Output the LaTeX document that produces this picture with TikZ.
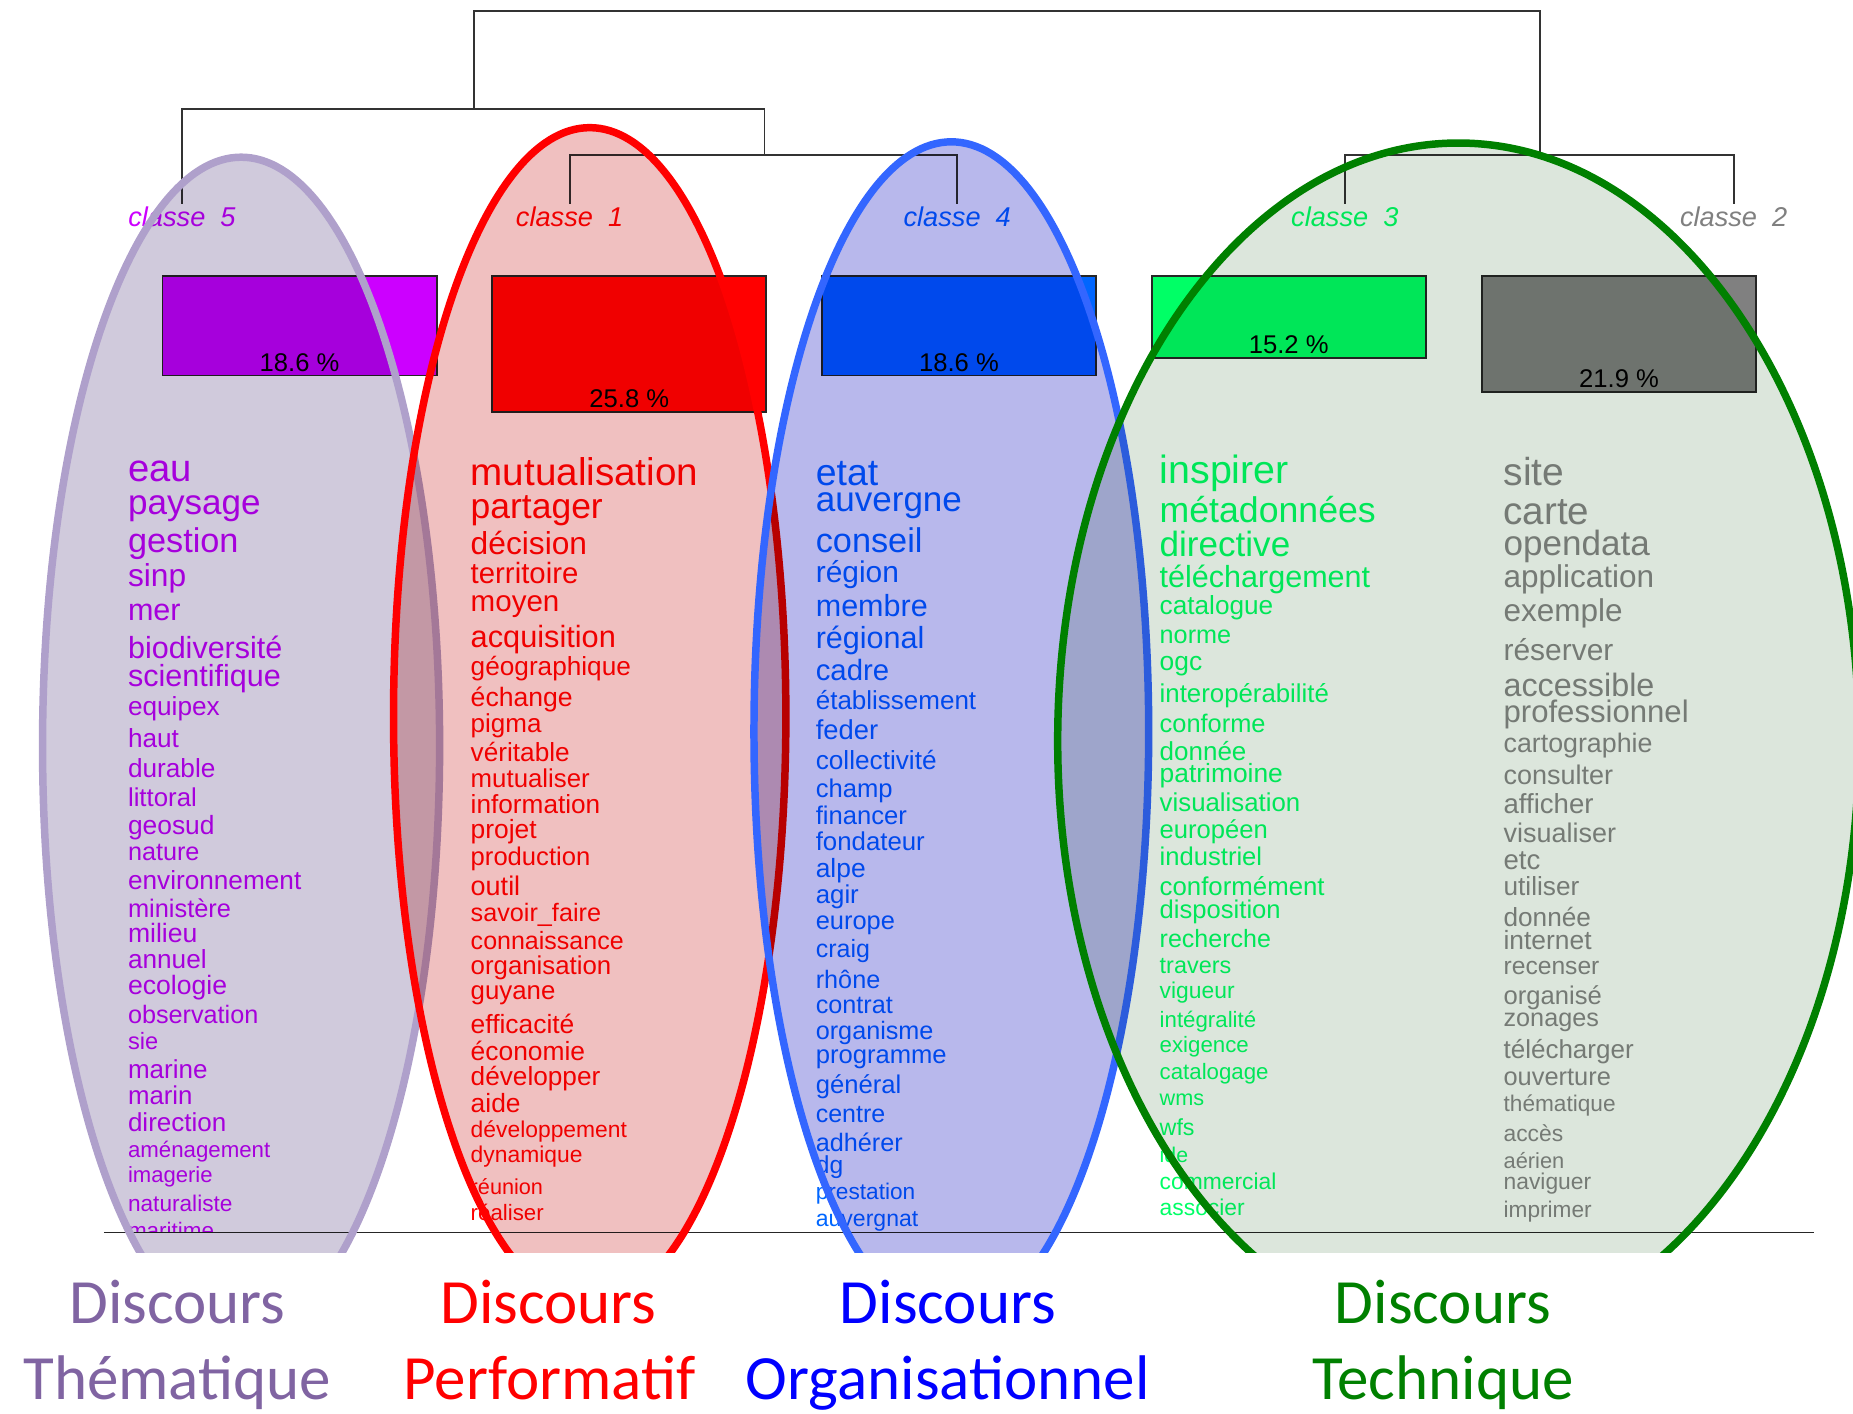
\documentclass[tikz,border=0pt]{standalone}
\usepackage{fontspec}
\setmainfont{Liberation Sans}
\newfontfamily\carlito{Carlito}
\usepackage{tikz}

\definecolor{violet5}{HTML}{CC00FF}
\definecolor{red1}{HTML}{FF0000}
\definecolor{blue4}{HTML}{0066FF}
\definecolor{green3}{HTML}{00FF66}
\definecolor{gray2}{HTML}{808080}
\definecolor{grayword}{HTML}{888888}
\definecolor{lavfill}{HTML}{D0CADC}
\definecolor{lavline}{HTML}{AFA0CB}
\definecolor{redfill}{HTML}{F0C0C0}
\definecolor{bluefill}{HTML}{B8B8EC}
\definecolor{blueline}{HTML}{3366FF}
\definecolor{greenfill}{HTML}{DCE6DC}
\definecolor{greenline}{HTML}{008000}
\definecolor{thema}{HTML}{8064A2}

\begin{document}
\begin{tikzpicture}[x=0.6pt, y=-0.6pt,
  tree/.style={draw=black!80, line width=0.9pt},
  leaf/.style={anchor=base, inner sep=1.5pt, font=\fontsize{13.8}{13.8}\selectfont\itshape},
  bar/.style={draw=black!85, line width=0.9pt, anchor=north, minimum width=139.2pt, inner sep=0pt},
  pct/.style={anchor=base, inner sep=0pt, font=\fontsize{13}{13}\selectfont},
  word/.style={anchor=mid west, inner sep=0pt, yshift={(2-0.3*#1)*1pt}, font=\fontsize{#1}{#1}\selectfont},
  oval/.style={line width=3.8pt},
  disc/.style={anchor=base, inner sep=0pt, font=\carlito\fontsize{32}{32}\selectfont}]
\useasboundingbox (0,0) rectangle (1568,1196);

% dendrogram
\node[leaf, text=violet5] (c5) at (154,192) {classe~~5};
\node[leaf, text=red1] (c1) at (482,192) {classe~~1};
\node[leaf, text=blue4] (c4) at (810,192) {classe~~4};
\node[leaf, text=green3] (c3) at (1138,192) {classe~~3};
\node[leaf, text=gray2] (c2) at (1467,192) {classe~~2};
\coordinate (j14) at (647,131);
\coordinate (j32) at (1303,131);
\coordinate (j514) at (401,92);
\coordinate (root) at (852,9);
\draw[tree] (c1.north) |- (j14) -| (c4.north);
\draw[tree] (c5.north) |- (j514) -| (j14);
\draw[tree] (c3.north) |- (j32) -| (c2.north);
\draw[tree] (j514) |- (root) -| (j32);

% bars
\node[bar, fill=violet5, minimum height=50.4pt] (b5) at (253.5,233) {};
\node[bar, fill=red1, minimum height=69pt] (b1) at (532.5,233) {};
\node[bar, fill=blue4, minimum height=50.4pt] (b4) at (811.5,233) {};
\node[bar, fill=green3, minimum height=41.4pt] (b3) at (1090.5,233) {};
\node[bar, fill=gray2, minimum height=58.8pt] (b2) at (1370,233) {};
\node[pct] (p5) at ([yshift=2.7pt]b5.south) {18.6 \%};
\node[pct] (p1) at ([yshift=2.7pt]b1.south) {25.8 \%};
\node[pct] (p4) at ([yshift=2.7pt]b4.south) {18.6 \%};
\node[pct] (p3) at ([yshift=2.7pt]b3.south) {15.2 \%};
\node[pct] (p2) at ([yshift=2.7pt]b2.south) {21.9 \%};

% words of each class
\begin{scope}
\clip (0,0) rectangle (1568,1043);
\foreach \y/\s/\t [count=\i] in {397/19.4/eau, 425/17.8/paysage, 458/17.4/gestion, 487/16.1/sinp, 516/15.5/mer, 548/15.5/biodiversité, 572/15.5/scientifique, 598/13.3/equipex, 625/13.3/haut, 650/13.3/durable, 675/13.1/littoral, 698/13.4/geosud, 721/12.8/nature, 745/13.3/environnement, 769/12.9/ministère, 790/13.5/milieu, 812/13.3/annuel, 834/13.5/ecologie, 859/12.8/observation, 881/12/sie, 905/13.2/marine, 927/13.1/marin, 950/13.2/direction, 973/11.3/aménagement, 994/11.2/imagerie, 1018/11.5/naturaliste, 1041/11.4/maritime}
  \node[word=\s, text=violet5] (v\i) at (108,\y) {\t};
\foreach \y/\s/\t [count=\i] in {400/19.6/mutualisation, 429/18/partager, 460/16.1/décision, 485/14.9/territoire, 509/15/moyen, 539/15.6/acquisition, 564/13.3/géographique, 590/13.5/échange, 612/13.2/pigma, 637/13.3/véritable, 659/13.1/mutualiser, 681/13.3/information, 702/13.4/projet, 725/13/production, 750/13.7/outil, 772/12.8/savoir\_faire, 796/12.7/connaissance, 817/13.1/organisation, 838/13.1/guyane, 867/13.4/efficacité, 890/13.4/économie, 911/13.3/développer, 934/13.4/aide, 956/11.6/développement, 977/11.6/dynamique, 1004/11/réunion, 1026/11.3/réaliser}
  \node[word=\s, text=red1] (r\i) at (398,\y) {\t};
\foreach \y/\s/\t [count=\i] in {400/19/etat, 423/17.8/auvergne, 458/17.4/conseil, 484/15.2/région, 513/15.5/membre, 540/15.5/régional, 567/14.9/cadre, 593/13.2/établissement, 618/13.9/feder, 643/13.3/collectivité, 667/13/champ, 690/13/financer, 712/13.1/fondateur, 735/13.4/alpe, 757/13.1/agir, 779/12.9/europe, 803/12.7/craig, 829/12.8/rhône, 850/12.8/contrat, 872/12.8/organisme, 892/13/programme, 918/13/général, 942/12.7/centre, 967/12.8/adhérer, 986/12.5/dg, 1008/11.5/prestation, 1031/11.7/auvergnat}
  \node[word=\s, text=blue4] (o\i) at (690,\y) {\t};
\foreach \y/\s/\t [count=\i] in {398/20/inspirer, 432/18.1/métadonnées, 461/17.8/directive, 488/15.5/téléchargement, 512/13.3/catalogue, 537/12.8/norme, 560/13.4/ogc, 587/13.1/interopérabilité, 612/12.9/conforme, 636/13.2/donnée, 654/13.4/patrimoine, 679/13.1/visualisation, 702/13/européen, 725/13/industriel, 750/13.1/conformément, 770/13/disposition, 794/12.7/recherche, 817/11.9/travers, 838/11.6/vigueur, 863/11.3/intégralité, 884/11.3/exigence, 907/11.3/catalogage, 929/11/wms, 954/11.8/wfs, 977/10.8/ide, 1000/11.6/commercial, 1022/11.6/associer}
  \node[word=\s, text=green3] (t\i) at (981,\y) {\t};
\foreach \y/\s/\t [count=\i] in {400/19.8/site, 433/19.6/carte, 460/17.8/opendata, 488/16/application, 517/16/exemple, 550/15.2/réserver, 580/16.4/accessible, 602/15.8/professionnel, 629/13.6/cartographie, 656/13.7/consulter, 680/14/afficher, 705/13.7/visualiser, 728/14/etc, 750/13.3/utiliser, 776/13.3/donnée, 796/13.4/internet, 817/12.5/recenser, 842/13/organisé, 861/12.8/zonages, 888/13.2/télécharger, 911/12.9/ouverture, 934/11.5/thématique, 959/11.6/accès, 982/11.1/aérien, 1000/11.6/naviguer, 1023/11.5/imprimer}
  \node[word=\s, text=grayword] (g\i) at (1272,\y) {\t};
\end{scope}

\coordinate (axl) at (88,1043);
\coordinate (axr) at (1535,1043);
\draw[black!85, line width=0.9pt] (axl) -- (axr);

% discourse ovals
\begin{scope}
\clip (0,0) rectangle (1568,1060);
\begin{scope}[blend mode=multiply]
\fill[lavfill] (204,631) ellipse [x radius=100.8pt, y radius=298.8pt];
\end{scope}
\draw[oval, lavline] (204,631) ellipse [x radius=100.8pt, y radius=298.8pt];
\begin{scope}[blend mode=multiply]
\fill[redfill] (499,606) ellipse [x radius=99.6pt, y radius=298.8pt];
\end{scope}
\draw[oval, red1] (499,606) ellipse [x radius=99.6pt, y radius=298.8pt];
\begin{scope}[blend mode=multiply]
\fill[bluefill] (805,619) ellipse [x radius=100.2pt, y radius=299.4pt];
\end{scope}
\draw[oval, blueline] (805,619) ellipse [x radius=100.2pt, y radius=299.4pt];
\begin{scope}[blend mode=multiply]
\fill[greenfill] (1234,627) ellipse [x radius=203.4pt, y radius=303.6pt];
\end{scope}
\draw[oval, greenline] (1234,627) ellipse [x radius=203.4pt, y radius=303.6pt];
\end{scope}

% discourse names
\node[disc, text=thema] (d1) at (150,1120) {Discours};
\node[disc, text=thema] (d1b) at (150,1184) {Thématique};
\node[disc, text=red1] (d2) at (464,1120) {Discours};
\node[disc, text=red1] (d2b) at (465,1184) {Performatif};
\node[disc, text=blue] (d3) at (802,1120) {Discours};
\node[disc, text=blue] (d3b) at (802,1184) {Organisationnel};
\node[disc, text=greenline] (d4) at (1221,1120) {Discours};
\node[disc, text=greenline] (d4b) at (1221,1184) {Technique};
\end{tikzpicture}
\end{document}
